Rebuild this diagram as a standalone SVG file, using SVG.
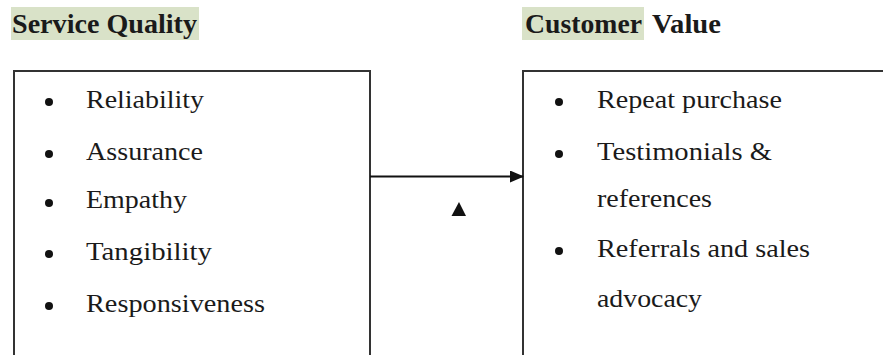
<svg xmlns="http://www.w3.org/2000/svg" width="883" height="355" viewBox="0 0 883 355">
<defs>
<style>
text{font-family:'Liberation Serif',Tinos,'Times New Roman',Times,serif}
.t{font-size:26px;fill:#1a1a1a}
.h{font-size:27px;font-weight:bold;fill:#1a1a1a}
.box{fill:#fff;stroke:#333;stroke-width:2}
.hl{fill:#d9e2c8}
.b{fill:#111}
</style>
<marker id="ah" markerWidth="14" markerHeight="12" refX="13" refY="6" orient="auto" markerUnits="userSpaceOnUse">
<path d="M0,0 L14,6 L0,12 Z" fill="#111"/>
</marker>
</defs>
<rect width="883" height="355" fill="#fff"/>
<g id="title-service">
<rect class="hl" x="11" y="7" width="188" height="33"/>
<text class="h" font-family="Liberation Serif, serif" x="12" y="33" textLength="185" lengthAdjust="spacingAndGlyphs">Service Quality</text>
</g>
<g id="title-customer">
<rect class="hl" x="522" y="7" width="122" height="33"/>
<text class="h" font-family="Liberation Serif, serif" x="525" y="33" textLength="117" lengthAdjust="spacingAndGlyphs">Customer</text>
<text class="h" font-family="Liberation Serif, serif" x="652" y="33" textLength="69" lengthAdjust="spacingAndGlyphs">Value</text>
</g>
<g id="service-quality" font-family="Liberation Serif, serif">
<rect class="box" x="14" y="71" width="356" height="300"/>
<circle class="b" cx="49" cy="102" r="4"/>
<text class="t" x="86" y="108" textLength="118" lengthAdjust="spacingAndGlyphs">Reliability</text>
<circle class="b" cx="49" cy="154" r="4"/>
<text class="t" x="86" y="160" textLength="117" lengthAdjust="spacingAndGlyphs">Assurance</text>
<circle class="b" cx="49" cy="203" r="4"/>
<text class="t" x="86" y="208" textLength="101" lengthAdjust="spacingAndGlyphs">Empathy</text>
<circle class="b" cx="49" cy="254" r="4"/>
<text class="t" x="86" y="260" textLength="126" lengthAdjust="spacingAndGlyphs">Tangibility</text>
<circle class="b" cx="49" cy="306" r="4"/>
<text class="t" x="86" y="312" textLength="179" lengthAdjust="spacingAndGlyphs">Responsiveness</text>
</g>
<g id="customer-value">
<rect class="box" x="523" y="71" width="380" height="300"/>
<circle class="b" cx="559" cy="102" r="4"/>
<text class="t" x="597" y="108" textLength="185" lengthAdjust="spacingAndGlyphs">Repeat purchase</text>
<circle class="b" cx="559" cy="154" r="4"/>
<text class="t" x="597" y="160" textLength="175" lengthAdjust="spacingAndGlyphs">Testimonials &amp;</text>
<text class="t" x="597" y="207" textLength="115" lengthAdjust="spacingAndGlyphs">references</text>
<circle class="b" cx="559" cy="251" r="4"/>
<text class="t" x="597" y="257" textLength="213" lengthAdjust="spacingAndGlyphs">Referrals and sales</text>
<text class="t" x="597" y="307" textLength="105" lengthAdjust="spacingAndGlyphs">advocacy</text>
</g>
<g id="connectors">
<line x1="370" y1="176.5" x2="523" y2="176.5" stroke="#111" stroke-width="2" marker-end="url(#ah)"/>
<polygon points="459,202 451.5,216 466,216" fill="#111"/>
</g>
</svg>
